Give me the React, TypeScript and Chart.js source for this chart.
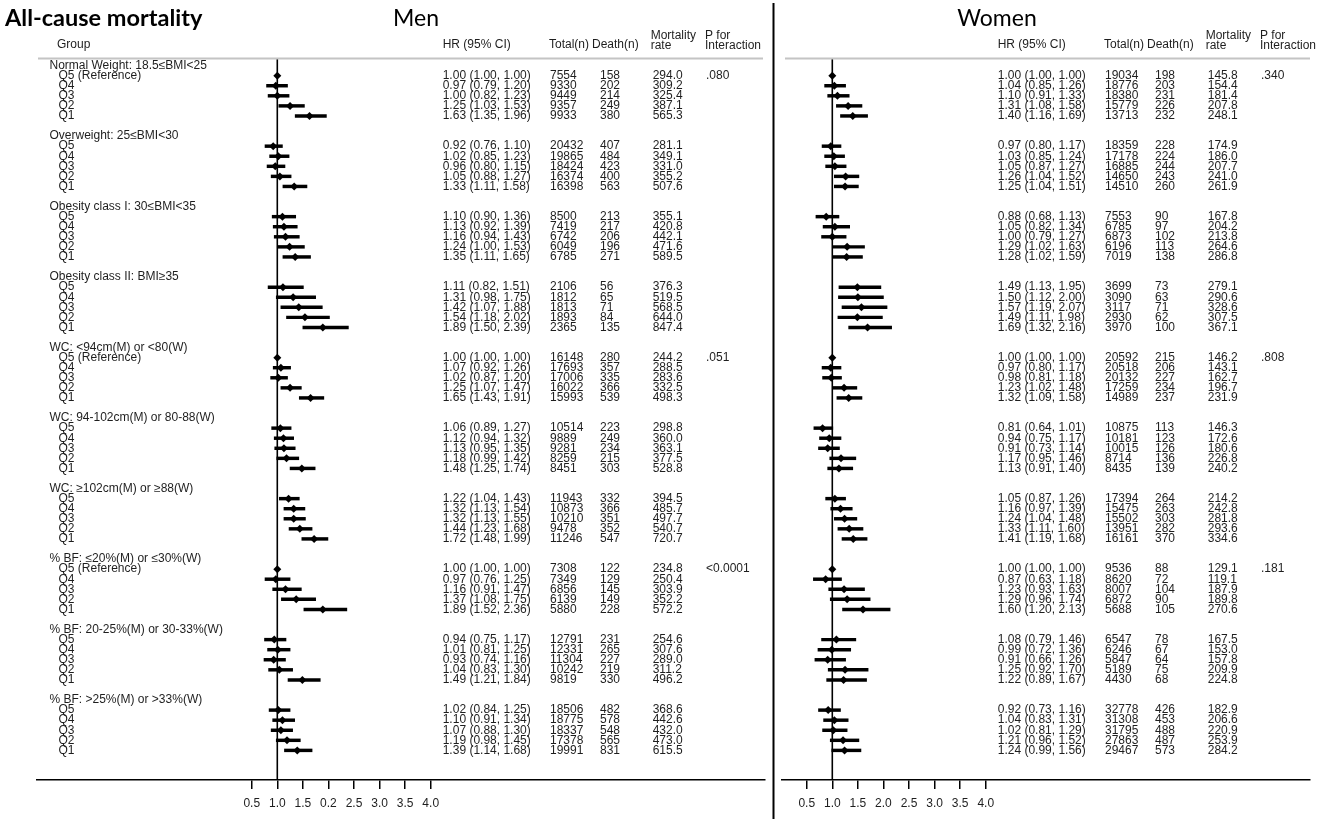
import React, { useEffect, useRef } from 'react';
import { Chart, registerables } from 'chart.js';

Chart.register(...registerables);

const groupLabels = [
  'Normal Weight: 18.5≤BMI<25',
  'Overweight: 25≤BMI<30',
  'Obesity class I: 30≤BMI<35',
  'Obesity class II: BMI≥35',
  'WC: <94cm(M) or <80(W)',
  'WC: 94-102cm(M) or 80-88(W)',
  'WC: ≥102cm(M) or ≥88(W)',
  '% BF: ≤20%(M) or ≤30%(W)',
  '% BF: 20-25%(M) or 30-33%(W)',
  '% BF: >25%(M) or >33%(W)',
];
const quintileLabels = ['Q5', 'Q4', 'Q3', 'Q2', 'Q1'];
const referenceGroups = [0, 4, 7];

const menHR = [
  1.0, 0.97, 1.0, 1.25, 1.63,
  0.92, 1.02, 0.96, 1.05, 1.33,
  1.1, 1.13, 1.16, 1.24, 1.35,
  1.11, 1.31, 1.42, 1.54, 1.89,
  1.0, 1.07, 1.02, 1.25, 1.65,
  1.06, 1.12, 1.13, 1.18, 1.48,
  1.22, 1.32, 1.32, 1.44, 1.72,
  1.0, 0.97, 1.16, 1.37, 1.89,
  0.94, 1.01, 0.93, 1.04, 1.49,
  1.02, 1.1, 1.07, 1.19, 1.39,
];
const menLow = [
  1.0, 0.79, 0.82, 1.03, 1.35,
  0.76, 0.85, 0.8, 0.88, 1.11,
  0.9, 0.92, 0.94, 1.0, 1.11,
  0.82, 0.98, 1.07, 1.18, 1.5,
  1.0, 0.92, 0.87, 1.07, 1.43,
  0.89, 0.94, 0.95, 0.99, 1.25,
  1.04, 1.13, 1.13, 1.23, 1.48,
  1.0, 0.76, 0.91, 1.08, 1.52,
  0.75, 0.81, 0.74, 0.83, 1.21,
  0.84, 0.91, 0.88, 0.98, 1.14,
];
const menHigh = [
  1.0, 1.2, 1.23, 1.53, 1.96,
  1.1, 1.23, 1.15, 1.27, 1.58,
  1.36, 1.39, 1.43, 1.53, 1.65,
  1.51, 1.75, 1.88, 2.02, 2.39,
  1.0, 1.26, 1.2, 1.47, 1.91,
  1.27, 1.32, 1.35, 1.42, 1.74,
  1.43, 1.54, 1.55, 1.68, 1.99,
  1.0, 1.25, 1.47, 1.75, 2.36,
  1.17, 1.25, 1.16, 1.3, 1.84,
  1.25, 1.34, 1.3, 1.45, 1.68,
];
const menTotal = [
  7554, 9330, 9449, 9357, 9933,
  20432, 19865, 18424, 16374, 16398,
  8500, 7419, 6742, 6049, 6785,
  2106, 1812, 1813, 1893, 2365,
  16148, 17693, 17006, 16022, 15993,
  10514, 9889, 9281, 8259, 8451,
  11943, 10873, 10210, 9478, 11246,
  7308, 7349, 6856, 6139, 5880,
  12791, 12331, 11304, 10242, 9819,
  18506, 18775, 18337, 17378, 19991,
];
const menDeath = [
  158, 202, 214, 249, 380,
  407, 484, 423, 400, 563,
  213, 217, 206, 196, 271,
  56, 65, 71, 84, 135,
  280, 357, 335, 366, 539,
  223, 249, 234, 215, 303,
  332, 366, 351, 352, 547,
  122, 129, 145, 149, 228,
  231, 265, 227, 219, 330,
  482, 578, 548, 565, 831,
];
const menRate = [
  294.0, 309.2, 325.4, 387.1, 565.3,
  281.1, 349.1, 331.0, 355.2, 507.6,
  355.1, 420.8, 442.1, 471.6, 589.5,
  376.3, 519.5, 568.5, 644.0, 847.4,
  244.2, 288.5, 283.6, 332.5, 498.3,
  298.8, 360.0, 363.1, 377.5, 528.8,
  394.5, 485.7, 497.7, 540.7, 720.7,
  234.8, 250.4, 303.9, 352.2, 572.2,
  254.6, 307.6, 289.0, 311.2, 496.2,
  368.6, 442.6, 432.0, 473.0, 615.5,
];
const menP = ['.080', '', '', '', '.051', '', '', '<0.0001', '', ''];

const womenHR = [
  1.0, 1.04, 1.1, 1.31, 1.4,
  0.97, 1.03, 1.05, 1.26, 1.25,
  0.88, 1.05, 1.0, 1.29, 1.28,
  1.49, 1.5, 1.57, 1.49, 1.69,
  1.0, 0.97, 0.98, 1.23, 1.32,
  0.81, 0.94, 0.91, 1.17, 1.13,
  1.05, 1.16, 1.24, 1.33, 1.41,
  1.0, 0.87, 1.23, 1.29, 1.6,
  1.08, 0.99, 0.91, 1.25, 1.22,
  0.92, 1.04, 1.02, 1.21, 1.24,
];
const womenLow = [
  1.0, 0.85, 0.91, 1.08, 1.16,
  0.8, 0.85, 0.87, 1.04, 1.04,
  0.68, 0.82, 0.79, 1.02, 1.02,
  1.13, 1.12, 1.19, 1.11, 1.32,
  1.0, 0.8, 0.81, 1.02, 1.09,
  0.64, 0.75, 0.73, 0.95, 0.91,
  0.87, 0.97, 1.04, 1.11, 1.19,
  1.0, 0.63, 0.93, 0.96, 1.2,
  0.79, 0.72, 0.66, 0.92, 0.89,
  0.73, 0.83, 0.81, 0.96, 0.99,
];
const womenHigh = [
  1.0, 1.26, 1.33, 1.58, 1.69,
  1.17, 1.24, 1.27, 1.52, 1.51,
  1.13, 1.34, 1.27, 1.63, 1.59,
  1.95, 2.0, 2.07, 1.98, 2.16,
  1.0, 1.17, 1.18, 1.48, 1.58,
  1.01, 1.17, 1.14, 1.46, 1.4,
  1.26, 1.39, 1.48, 1.6, 1.68,
  1.0, 1.18, 1.63, 1.74, 2.13,
  1.46, 1.36, 1.26, 1.7, 1.67,
  1.16, 1.31, 1.29, 1.52, 1.56,
];
const womenTotal = [
  19034, 18776, 18380, 15779, 13713,
  18359, 17178, 16885, 14650, 14510,
  7553, 6785, 6873, 6196, 7019,
  3699, 3090, 3117, 2930, 3970,
  20592, 20518, 20132, 17259, 14989,
  10875, 10181, 10015, 8714, 8435,
  17394, 15475, 15502, 13951, 16161,
  9536, 8620, 8007, 6872, 5688,
  6547, 6246, 5847, 5189, 4430,
  32778, 31308, 31795, 27863, 29467,
];
const womenDeath = [
  198, 203, 231, 226, 232,
  228, 224, 244, 243, 260,
  90, 97, 102, 113, 138,
  73, 63, 71, 62, 100,
  215, 206, 227, 234, 237,
  113, 123, 126, 136, 139,
  264, 263, 303, 282, 370,
  88, 72, 104, 90, 105,
  78, 67, 64, 75, 68,
  426, 453, 488, 487, 573,
];
const womenRate = [
  145.8, 154.4, 181.4, 207.8, 248.1,
  174.9, 186.0, 207.7, 241.0, 261.9,
  167.8, 204.2, 213.8, 264.6, 286.8,
  279.1, 290.6, 328.6, 307.5, 367.1,
  146.2, 143.1, 162.7, 196.7, 231.9,
  146.3, 172.6, 180.6, 226.8, 240.2,
  214.2, 242.8, 281.8, 293.6, 334.6,
  129.1, 119.1, 187.9, 189.8, 270.6,
  167.5, 153.0, 157.8, 209.9, 224.8,
  182.9, 206.6, 220.9, 253.9, 284.2,
];
const womenP = ['.340', '', '', '', '.808', '', '', '.181', '', ''];

const xTickValues = [0.5, 1, 1.5, 2, 2.5, 3, 3.5, 4];
const menTickLabels = ['0.5', '1.0', '1.5', '0.2', '2.5', '3.0', '3.5', '4.0'];
const womenTickLabels = ['0.5', '1.0', '1.5', '2.0', '2.5', '3.0', '3.5', '4.0'];

// ---- layout (not data) ----
const Y_MIN = -0.755;
const Y_MAX = 70.94;
const FONT = '"Liberation Sans", Arial, Helvetica, sans-serif';
const TITLE_FONT = 'Lato, "Open Sans", sans-serif';
const COL = { hr: 165.4, total: 272.7, death: 322.7, rate: 375.4, p: 428.7 };

const rowSlot = (i: number) => Math.floor(i / 5) * 7 + 1 + (i % 5);
const headerSlot = (g: number) => g * 7;

type Panel = {
  hr: number[]; low: number[]; high: number[];
  total: number[]; death: number[]; rate: number[]; p: string[];
  tickLabels: string[];
  xMin: number; xMax: number;
  padding: { left: number; right: number; top: number; bottom: number };
  isMen: boolean;
  headerLine: [number, number];
  panelTitle: string; panelTitleX: number;
};

function textPlugin(panel: Panel) {
  return {
    id: 'forestText',
    afterDraw(chart: any) {
      const ctx: CanvasRenderingContext2D = chart.ctx;
      const xs = chart.scales.x;
      const ys = chart.scales.y;
      const x1 = xs.getPixelForValue(1);
      ctx.save();

      // titles
      ctx.fillStyle = '#000';
      ctx.textBaseline = 'middle';
      if (panel.isMen) {
        ctx.textAlign = 'left';
        ctx.font = `bold 23.5px ${TITLE_FONT}`;
        ctx.fillText('All-cause mortality', 5, 18);
      }
      ctx.textAlign = 'center';
      ctx.font = `23px ${TITLE_FONT}`;
      ctx.fillText(panel.panelTitle, panel.panelTitleX, 19);

      // header line
      ctx.strokeStyle = '#c4c4c4';
      ctx.lineWidth = 2;
      ctx.beginPath();
      ctx.moveTo(panel.headerLine[0], 58.5);
      ctx.lineTo(panel.headerLine[1], 58.5);
      ctx.stroke();

      // divider
      if (panel.isMen) {
        ctx.strokeStyle = '#000';
        ctx.lineWidth = 2;
        ctx.beginPath();
        ctx.moveTo(773.5, 3);
        ctx.lineTo(773.5, 819);
        ctx.stroke();
      }

      // column headers
      ctx.fillStyle = '#1e1e1e';
      ctx.font = `12px ${FONT}`;
      ctx.textAlign = 'left';
      if (panel.isMen) ctx.fillText('Group', 57, 45);
      ctx.fillText('HR (95% CI)', x1 + COL.hr, 45);
      ctx.fillText('Total(n)', x1 + COL.total - 1, 45);
      ctx.fillText('Death(n)', x1 + COL.death - 8, 45);
      ctx.fillText('Mortality', x1 + COL.rate - 2, 36);
      ctx.fillText('rate', x1 + COL.rate - 2, 46);
      ctx.fillText('P for', x1 + COL.p - 1, 36);
      ctx.fillText('Interaction', x1 + COL.p - 1, 46);

      // group labels
      if (panel.isMen) {
        groupLabels.forEach((g, gi) => {
          ctx.fillText(g, 49.5, ys.getPixelForValue(headerSlot(gi)));
        });
      }

      // rows
      panel.hr.forEach((v, i) => {
        const y = ys.getPixelForValue(rowSlot(i));
        const g = Math.floor(i / 5);
        const q = i % 5;
        if (panel.isMen) {
          const lbl = quintileLabels[q] + (q === 0 && referenceGroups.includes(g) ? ' (Reference)' : '');
          ctx.fillText(lbl, 58.5, y);
        }
        ctx.fillText(`${v.toFixed(2)} (${panel.low[i].toFixed(2)}, ${panel.high[i].toFixed(2)})`, x1 + COL.hr, y);
        ctx.fillText(String(panel.total[i]), x1 + COL.total, y);
        ctx.fillText(String(panel.death[i]), x1 + COL.death, y);
        ctx.fillText(panel.rate[i].toFixed(1), x1 + COL.rate, y);
        if (q === 0 && panel.p[g]) ctx.fillText(panel.p[g], x1 + COL.p, y);
      });

      ctx.restore();
    },
  };
}

function buildChart(canvas: HTMLCanvasElement, panel: Panel) {
  const ci = panel.hr.map((_, i) => ({ x: [panel.low[i], panel.high[i]], y: rowSlot(i) }));
  const pts = panel.hr.map((v, i) => ({ x: v, y: rowSlot(i) }));
  return new Chart(canvas, {
    type: 'scatter',
    data: {
      datasets: [
        {
          type: 'line',
          data: [{ x: 1, y: Y_MIN }, { x: 1, y: Y_MAX }],
          borderColor: '#000',
          borderWidth: 1.6,
          pointRadius: 0,
          order: 3,
        } as any,
        {
          type: 'bar',
          indexAxis: 'y',
          data: ci,
          backgroundColor: '#000',
          borderWidth: 0,
          barThickness: 2.8,
          order: 2,
        } as any,
        {
          type: 'scatter',
          data: pts,
          pointStyle: 'rectRot',
          pointRadius: 4,
          backgroundColor: '#000',
          borderWidth: 0,
          order: 1,
        } as any,
      ],
    },
    options: {
      responsive: false,
      animation: false,
      devicePixelRatio: 1,
      events: [],
      layout: { padding: panel.padding },
      plugins: { legend: { display: false }, tooltip: { enabled: false } },
      scales: {
        x: {
          type: 'linear',
          min: panel.xMin,
          max: panel.xMax,
          offset: false,
          afterBuildTicks: (s: any) => {
            s.ticks = xTickValues.map((v) => ({ value: v }));
          },
          ticks: {
            autoSkip: false,
            maxRotation: 0,
            padding: 7,
            color: '#1e1e1e',
            font: { family: FONT, size: 12 },
            callback: (_v: any, i: number) => panel.tickLabels[i],
          },
          grid: { drawOnChartArea: false, drawTicks: true, tickLength: 9, color: '#000', lineWidth: 1.5 },
          border: { display: true, color: '#000', width: 1.6 },
        },
        y: {
          type: 'linear',
          display: false,
          reverse: true,
          min: Y_MIN,
          max: Y_MAX,
          offset: false,
        },
      },
    } as any,
    plugins: [textPlugin(panel) as any],
  });
}

const menPanel: Panel = {
  hr: menHR, low: menLow, high: menHigh, total: menTotal, death: menDeath, rate: menRate, p: menP,
  tickLabels: menTickLabels,
  xMin: -3.699, xMax: 10.537,
  padding: { left: 37, right: 10, top: 58, bottom: 1.6 },
  isMen: true,
  headerLine: [38, 763],
  panelTitle: 'Men', panelTitleX: 416,
};
const womenPanel: Panel = {
  hr: womenHR, low: womenLow, high: womenHigh, total: womenTotal, death: womenDeath, rate: womenRate, p: womenP,
  tickLabels: womenTickLabels,
  xMin: 0.0164, xMax: 10.341,
  padding: { left: 7, right: 23, top: 58, bottom: 1.6 },
  isMen: false,
  headerLine: [10, 535],
  panelTitle: 'Women', panelTitleX: 222,
};

export default function App() {
  const menRef = useRef<HTMLCanvasElement>(null);
  const womenRef = useRef<HTMLCanvasElement>(null);
  useEffect(() => {
    const a = buildChart(menRef.current!, menPanel);
    const b = buildChart(womenRef.current!, womenPanel);
    return () => {
      a.destroy();
      b.destroy();
    };
  }, []);
  return (
    <div style={{ position: 'absolute', left: 0, top: 0, width: 1333, height: 819, background: '#fff', overflow: 'hidden' }}>
      <canvas ref={menRef} width={775} height={819} style={{ position: 'absolute', left: 0, top: 0, width: 775, height: 819 }} />
      <canvas ref={womenRef} width={558} height={819} style={{ position: 'absolute', left: 775, top: 0, width: 558, height: 819 }} />
    </div>
  );
}
